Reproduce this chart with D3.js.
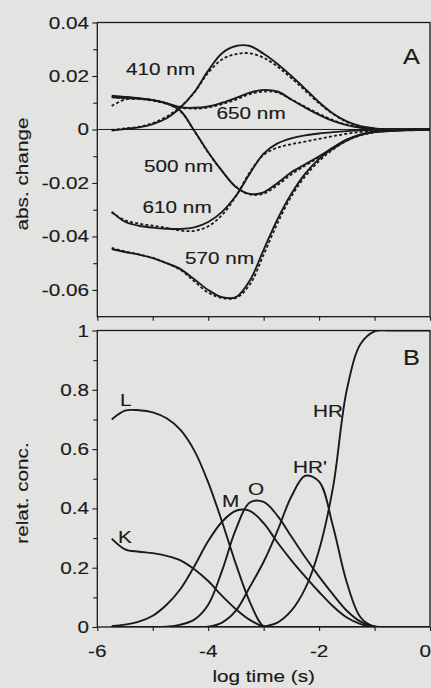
<!DOCTYPE html>
<html>
<head>
<meta charset="utf-8">
<script src="https://cdn.jsdelivr.net/npm/d3@7"></script>
<style>
  html, body { margin: 0; padding: 0; background: #e3e3e1; }
  svg { display: block; }
  text { font-family: "Liberation Sans", Arial, sans-serif; fill: #1a1a1a; stroke: #1a1a1a; stroke-width: 0.15px; }
</style>
</head>
<body>
<svg id="chart" width="431" height="688"></svg>
<script>
// Shared time grid (log10 of time in s)
const logTime = [-5.74, -5.5, -5.25, -5.0, -4.75, -4.5, -4.25, -4.0, -3.75, -3.5, -3.25, -3.0,
                 -2.75, -2.5, -2.25, -2.0, -1.75, -1.5, -1.25, -1.0, -0.75, -0.5, -0.25, 0];

// Panel A: absorbance change, fitted (solid) and measured (dashed)
const wavelengths = ["410 nm", "650 nm", "500 nm", "610 nm", "570 nm"];
const fit410 = [-0.0004, 0.0002, 0.0008, 0.0020, 0.0042, 0.0082, 0.0140, 0.0220, 0.0285, 0.0312, 0.0312, 0.0283, 0.0245, 0.0200, 0.0152, 0.0102, 0.0060, 0.0030, 0.0012, 0.0004, 0.0001, 0.0000, 0.0000, 0.0000];
const obs410 = [-0.0002, 0.0004, 0.0010, 0.0024, 0.0048, 0.0085, 0.0138, 0.0212, 0.0262, 0.0282, 0.0285, 0.0268, 0.0235, 0.0192, 0.0145, 0.0098, 0.0058, 0.0028, 0.0010, 0.0003, 0.0001, 0.0000, 0.0000, 0.0000];
const fit650 = [0.0120, 0.0118, 0.0116, 0.0110, 0.0098, 0.0083, 0.0081, 0.0086, 0.0100, 0.0118, 0.0138, 0.0148, 0.0142, 0.0112, 0.0082, 0.0055, 0.0032, 0.0016, 0.0006, 0.0002, 0.0001, 0.0000, 0.0000, 0.0000];
const obs650 = [0.0122, 0.0116, 0.0114, 0.0108, 0.0096, 0.0082, 0.0078, 0.0082, 0.0095, 0.0112, 0.0132, 0.0142, 0.0138, 0.0112, 0.0085, 0.0058, 0.0035, 0.0018, 0.0007, 0.0002, 0.0001, 0.0000, 0.0000, 0.0000];
const fit500 = [0.0126, 0.0122, 0.0117, 0.0110, 0.0098, 0.0070, -0.0005, -0.0085, -0.0155, -0.0215, -0.0241, -0.0235, -0.0200, -0.0160, -0.0130, -0.0100, -0.0068, -0.0038, -0.0018, -0.0007, -0.0002, -0.0001, 0.0000, 0.0000];
const obs500 = [0.0088, 0.0112, 0.0115, 0.0110, 0.0097, 0.0068, -0.0006, -0.0086, -0.0156, -0.0214, -0.0243, -0.0240, -0.0208, -0.0168, -0.0135, -0.0104, -0.0072, -0.0042, -0.0020, -0.0008, -0.0003, -0.0001, 0.0000, 0.0000];
const fit610 = [-0.0307, -0.0345, -0.0360, -0.0367, -0.0371, -0.0372, -0.0366, -0.0346, -0.0308, -0.0248, -0.0165, -0.0090, -0.0052, -0.0033, -0.0022, -0.0015, -0.0010, -0.0006, -0.0003, -0.0001, 0.0000, 0.0000, 0.0000, 0.0000];
const obs610 = [-0.0310, -0.0340, -0.0352, -0.0360, -0.0368, -0.0378, -0.0379, -0.0362, -0.0320, -0.0250, -0.0160, -0.0095, -0.0068, -0.0055, -0.0045, -0.0035, -0.0025, -0.0016, -0.0009, -0.0004, -0.0002, -0.0001, 0.0000, 0.0000];
const fit570 = [-0.0447, -0.0458, -0.0468, -0.0481, -0.0500, -0.0522, -0.0560, -0.0600, -0.0627, -0.0627, -0.0565, -0.0450, -0.0335, -0.0240, -0.0165, -0.0110, -0.0068, -0.0038, -0.0020, -0.0010, -0.0006, -0.0004, -0.0002, -0.0001];
const obs570 = [-0.0443, -0.0456, -0.0467, -0.0480, -0.0500, -0.0525, -0.0568, -0.0610, -0.0630, -0.0630, -0.0580, -0.0468, -0.0350, -0.0250, -0.0175, -0.0118, -0.0075, -0.0042, -0.0022, -0.0011, -0.0006, -0.0003, -0.0001, 0.0000];

// Panel B: relative concentrations of the intermediates
const species = ["K", "L", "M", "O", "HR'", "HR"];
const concK   = [0.298, 0.262, 0.254, 0.249, 0.240, 0.225, 0.195, 0.155, 0.105, 0.060, 0.024, 0.002, 0, 0, 0, 0, 0, 0, 0, 0, 0, 0, 0, 0];
const concL   = [0.700, 0.730, 0.731, 0.724, 0.704, 0.665, 0.595, 0.488, 0.355, 0.212, 0.085, 0.002, 0, 0, 0, 0, 0, 0, 0, 0, 0, 0, 0, 0];
const concM   = [0.003, 0.008, 0.018, 0.038, 0.075, 0.128, 0.205, 0.290, 0.355, 0.392, 0.392, 0.350, 0.285, 0.225, 0.170, 0.118, 0.070, 0.032, 0.010, 0.001, 0, 0, 0, 0];
const concO   = [0, 0, 0, 0, 0.001, 0.008, 0.025, 0.075, 0.190, 0.330, 0.420, 0.422, 0.375, 0.305, 0.235, 0.170, 0.110, 0.055, 0.018, 0.002, 0, 0, 0, 0];
const concHRp = [0, 0, 0, 0, 0, 0, 0, 0.001, 0.015, 0.055, 0.135, 0.220, 0.325, 0.440, 0.510, 0.490, 0.340, 0.150, 0.032, 0.001, 0, 0, 0, 0];
const concHR  = [0, 0, 0, 0, 0, 0, 0, 0, 0, 0, 0, 0.002, 0.015, 0.055, 0.130, 0.260, 0.470, 0.800, 0.955, 0.997, 1.0, 1.0, 1.0, 1.0];

// Tick values
const xTicks = [-6, -5, -4, -3, -2, -1, 0];
const xTickLabels = [-6, -4, -2, 0];
const yTicksA = [-0.06, -0.04, -0.02, 0, 0.02, 0.04];
const yMinorA = [-0.05, -0.03, -0.01, 0.01, 0.03];
const yTicksB = [0, 0.2, 0.4, 0.6, 0.8, 1];
const yMinorB = [0.1, 0.3, 0.5, 0.7, 0.9];

const INK = "#1a1a1a";
const SX = 1.22;           // horizontal stretch of the lettering
const FS = 17;             // base font size

const svg = d3.select("#chart");
svg.append("rect").attr("width", 431).attr("height", 688).attr("fill", "#e3e3e1");

const left = 97.3, right = 430;
const x = d3.scaleLinear().domain([-6, 0]).range([left, right]);
const yA = d3.scaleLinear().domain([-0.07, 0.04]).range([316.7, 22.5]);
const yB = d3.scaleLinear().domain([0, 1]).range([627, 330.5]);

function label(g, px, py, str, opts = {}) {
  return g.append("text")
    .attr("transform", `translate(${px},${py}) scale(${opts.sx || SX},1)`)
    .attr("text-anchor", opts.anchor || "start")
    .attr("font-size", opts.size || FS)
    .text(str);
}

const fmtA = d => d === 0 ? "0" : d3.format(".2f")(d).replace("\u2212", "-");
const fmtB = d => d === 0 ? "0" : (d === 1 ? "1" : d3.format(".1f")(d));

function yTicksOn(g, y, major, minor) {
  g.append("g").attr("transform", `translate(${left},0)`)
    .call(d3.axisLeft(y).tickValues(minor).tickSize(4).tickFormat(""))
    .call(a => a.select(".domain").remove())
    .selectAll("line").attr("stroke", INK).attr("stroke-width", 1.1);
  g.append("g").attr("transform", `translate(${left},0)`)
    .call(d3.axisLeft(y).tickValues(major).tickSize(5).tickFormat(""))
    .call(a => a.select(".domain").remove())
    .selectAll("line").attr("stroke", INK).attr("stroke-width", 1.1);
}

function xTicksOn(g, yPos) {
  g.append("g").attr("transform", `translate(0,${yPos})`)
    .call(d3.axisBottom(x).tickValues(xTicks).tickSize(4).tickFormat(""))
    .call(a => a.select(".domain").remove())
    .selectAll("line").attr("stroke", INK).attr("stroke-width", 1.1);
}

function clipRect(id, y0, y1) {
  svg.append("clipPath").attr("id", id).append("rect")
    .attr("x", left).attr("y", y0).attr("width", right - left).attr("height", y1 - y0);
  return `url(#${id})`;
}

const smooth = d3.curveCatmullRom.alpha(0.5);

// ---------- Panel A ----------
const gA = svg.append("g");
yTicksOn(gA, yA, yTicksA, yMinorA);
yTicksA.forEach(v => label(gA, left - 8.3, yA(v) + 6, fmtA(v), { anchor: "end" }));
xTicksOn(gA, yA(-0.07));

// zero reference line
gA.append("line").attr("x1", left).attr("x2", right)
  .attr("y1", yA(0)).attr("y2", yA(0))
  .attr("stroke", INK).attr("stroke-width", 1);

const lineA = d3.line().x((d, i) => x(logTime[i])).y(d => yA(d)).curve(smooth);
const plotA = gA.append("g").attr("clip-path", clipRect("clipA", yA(0.04), yA(-0.07)));
[obs410, obs650, obs500, obs610, obs570].forEach(vals => plotA.append("path")
  .attr("d", lineA(vals)).attr("fill", "none")
  .attr("stroke", INK).attr("stroke-width", 1.8).attr("stroke-dasharray", "3,2.2"));
[fit410, fit650, fit500, fit610, fit570].forEach(vals => plotA.append("path")
  .attr("d", lineA(vals)).attr("fill", "none")
  .attr("stroke", INK).attr("stroke-width", 1.9));

// frame
gA.append("rect").attr("x", left).attr("y", yA(0.04)).attr("width", right - left)
  .attr("height", yA(-0.07) - yA(0.04)).attr("fill", "none").attr("stroke", INK).attr("stroke-width", 1.3);

// wavelength labels
const labelPosA = [[126, 75], [216.5, 119], [144, 171.5], [142.5, 213], [185, 264]];
wavelengths.forEach((w, i) => label(gA, labelPosA[i][0], labelPosA[i][1], w));
label(gA, 403, 64, "A", { size: 22, sx: 1.15 });

gA.append("text").attr("transform", `translate(28,174) rotate(-90) scale(${SX},1)`)
  .attr("text-anchor", "middle").attr("font-size", FS).text("abs. change");

// ---------- Panel B ----------
const gB = svg.append("g");
yTicksOn(gB, yB, yTicksB, yMinorB);
yTicksB.forEach(v => label(gB, left - 8.3, yB(v) + 6, fmtB(v), { anchor: "end" }));
xTicksOn(gB, yB(0));
xTickLabels.forEach(v => {
  if (v === 0) label(gB, 431, 656.5, String(v), { anchor: "end" });
  else label(gB, x(v), 656.5, String(v), { anchor: "middle" });
});

const lineB = d3.line().x((d, i) => x(logTime[i])).y(d => yB(d)).curve(smooth);
const plotB = gB.append("g").attr("clip-path", clipRect("clipB", yB(1), yB(0)));
[concK, concL, concM, concO, concHRp, concHR].forEach(vals =>
  plotB.append("path").attr("d", lineB(vals)).attr("fill", "none")
    .attr("stroke", INK).attr("stroke-width", 1.9));

gB.append("rect").attr("x", left).attr("y", yB(1)).attr("width", right - left)
  .attr("height", yB(0) - yB(1)).attr("fill", "none").attr("stroke", INK).attr("stroke-width", 1.3);

const labelPosB = [[118, 543], [120, 406], [222, 507], [248, 495], [293, 473], [313, 417]];
species.forEach((s, i) => label(gB, labelPosB[i][0], labelPosB[i][1], s));
label(gB, 403, 365, "B", { size: 22, sx: 1.15 });

gB.append("text").attr("transform", `translate(28,493) rotate(-90) scale(${SX},1)`)
  .attr("text-anchor", "middle").attr("font-size", FS).text("relat. conc.");

label(svg, x(-3), 682, "log time (s)", { anchor: "middle" });
</script>
</body>
</html>
